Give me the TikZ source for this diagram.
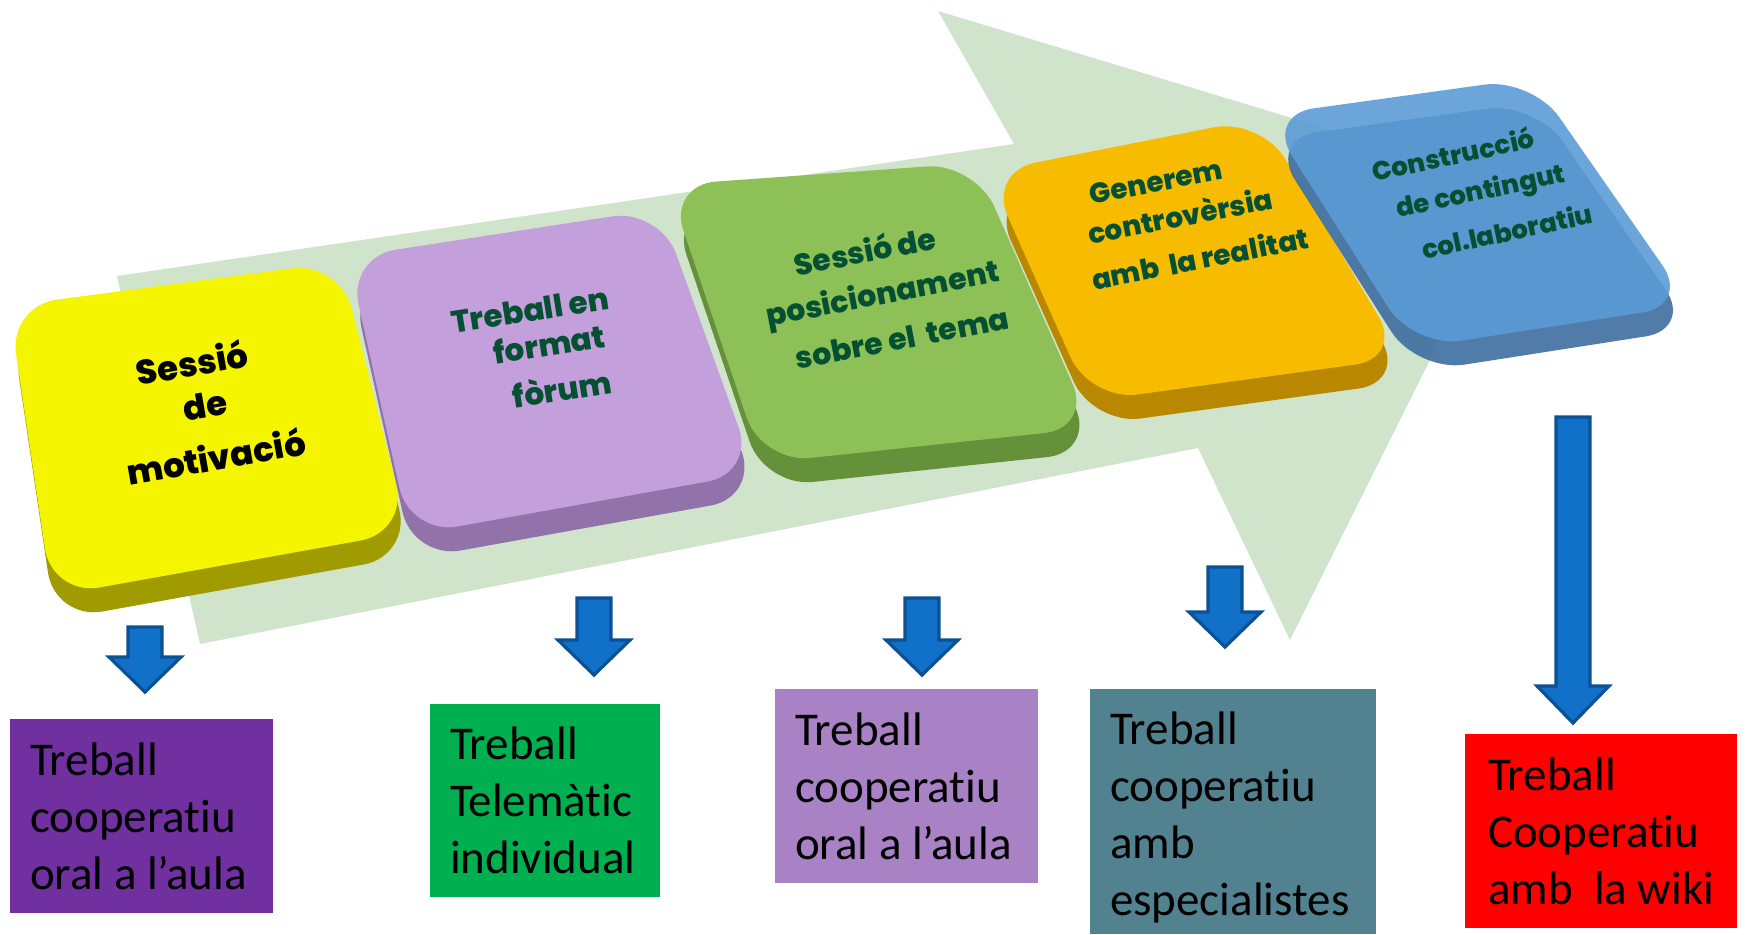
\documentclass[tikz,border=0pt]{standalone}
\usepackage{fontspec}
\setmainfont{Carlito}[Ligatures=NoCommon]
\newfontfamily\keyfont{Poppins}[BoldFont={Poppins ExtraBold}]
\definecolor{bgarrow}{RGB}{208,228,204}
\definecolor{ablue}{RGB}{17,112,200}
\definecolor{ablueedge}{RGB}{12,80,150}
\definecolor{kAtop}{RGB}{245,245,0}
\definecolor{kAside}{RGB}{160,155,0}
\definecolor{kBtop}{RGB}{195,160,220}
\definecolor{kBside}{RGB}{145,115,170}
\definecolor{kCtop}{RGB}{141,193,87}
\definecolor{kCside}{RGB}{100,145,58}
\definecolor{kDtop}{RGB}{247,187,0}
\definecolor{kDside}{RGB}{185,135,0}
\definecolor{kEtop}{RGB}{91,155,213}
\definecolor{kEside}{RGB}{62,110,160}
\definecolor{keytext}{RGB}{5,80,50}
\definecolor{bpurple}{RGB}{112,48,160}
\definecolor{bgreen}{RGB}{0,176,80}
\definecolor{blav}{RGB}{169,130,198}
\definecolor{bteal}{RGB}{82,129,143}
\definecolor{bred}{RGB}{255,0,0}
\newcommand\keyquad[5]{\fill[#1] (#2) -- (#3) -- (#4) -- (#5) -- cycle;}
\newcommand\dnarrow[4]{\draw[blockarrow] ({#1-17},#2) -- ({#1+17},#2) -- ({#1+17},#3) -- ({#1+36},#3) -- (#1,#4) -- ({#1-36},#3) -- ({#1-17},#3) -- cycle;}
\tikzset{
  keyedge/.style={rounded corners=24pt},
  keylbl/.style={inner sep=0pt, text=keytext},
  blockarrow/.style={fill=ablue, draw=ablueedge, line width=1.6pt, line join=miter},
  outbox/.style={inner sep=0pt},
  outtext/.style={inner sep=0pt, align=left, text=black, anchor=west,
    font=\fontsize{23.5}{28.5}\selectfont},
}
\begin{document}
\begin{tikzpicture}[x=0.5pt,y=-0.5pt]
\useasboundingbox (0,0) rectangle (1746,934);
% background arrow
\fill[bgarrow] (117,276) -- (1014,144) -- (938,11) -- (1517,186) -- (1290,640) -- (1198,448) -- (200,644) -- cycle;
% key 1
\keyquad{kAside,keyedge,shift={(3,24)}}{9,306}{340,262}{408,532}{52,596}
\keyquad{kAtop,keyedge}{9,306}{340,262}{408,532}{52,596}
% key 2
\keyquad{kBside,keyedge,shift={(3,24)}}{348,257}{660,209}{755,473}{410,535}
\keyquad{kBtop,keyedge}{348,257}{660,209}{755,473}{410,535}
% key 3
\keyquad{kCside,keyedge,shift={(3,24)}}{668,185}{975,163}{1092,428}{762,463}
\keyquad{kCtop,keyedge}{668,185}{975,163}{1092,428}{762,463}
% key 4
\keyquad{kDside,keyedge,shift={(3,24)}}{988,172}{1261,118}{1403,358}{1090,401}
\keyquad{kDtop,keyedge}{988,172}{1261,118}{1403,358}{1090,401}
% key 5
\keyquad{kEside,keyedge,shift={(3,24)},opacity=0.9}{1266,115}{1532,78}{1690,305}{1414,348}
\keyquad{kEtop,keyedge,opacity=0.9}{1266,115}{1532,78}{1690,305}{1414,348}
% key labels
\tikzset{fA/.style={font=\keyfont\bfseries\fontsize{17}{20}\selectfont, rotate=10, text=black},
 fB/.style={font=\keyfont\bfseries\fontsize{15.5}{18}\selectfont, rotate=9},
 fC/.style={font=\keyfont\bfseries\fontsize{15}{18}\selectfont, rotate=11},
 fD/.style={font=\keyfont\bfseries\fontsize{14}{17}\selectfont, rotate=11},
 fE/.style={font=\keyfont\bfseries\fontsize{13}{16}\selectfont, rotate=12}}
\node[keylbl,fA] (k1a) at (192,362) {Sessió};
\node[keylbl,fA] (k1b) at (205,405) {de};
\node[keylbl,fA] (k1c) at (216,456) {motivació};
\node[keylbl,fB] (k2a) at (530,310) {Treball en};
\node[keylbl,fB] (k2b) at (549,344) {format};
\node[keylbl,fB] (k2c) at (562,388) {fòrum};
\node[keylbl,fC] (k3a) at (865,250) {Sessió de};
\node[keylbl,fC] (k3b) at (883,296) {posicionament};
\node[keylbl,fC] (k3c) at (902,338) {sobre el~~tema};
\node[keylbl,fD] (k4a) at (1156,182) {Generem};
\node[keylbl,fD] (k4b) at (1180,215) {controvèrsia};
\node[keylbl,fD] (k4c) at (1200,258) {amb~~la realitat};
\node[keylbl,fE] (k5a) at (1453,154) {Construcció};
\node[keylbl,fE] (k5b) at (1481,193) {de contingut};
\node[keylbl,fE] (k5c) at (1507,231) {col.laboratiu};
% blue arrows
\dnarrow{145}{627}{657}{692}
\dnarrow{594}{598}{640}{675}
\dnarrow{922}{598}{640}{675}
\dnarrow{1225}{567}{612}{647}
\dnarrow{1573}{417}{686}{723}
% output boxes
\node[outbox, fill=bpurple, minimum width=131.5pt, minimum height=97pt] (o1) at (141.5,816) {};
\node[outtext] (t1) at ([xshift=10pt]o1.west) {Treball\\cooperatiu\\oral a l’aula};
\node[outbox, fill=bgreen, minimum width=115pt, minimum height=96.5pt] (o2) at (545,800.5) {};
\node[outtext] (t2) at ([xshift=10pt]o2.west) {Treball\\Telemàtic\\individual};
\node[outbox, fill=blav, minimum width=131.5pt, minimum height=97pt] (o3) at (906.5,786) {};
\node[outtext] (t3) at ([xshift=10pt]o3.west) {Treball\\cooperatiu\\oral a l’aula};
\node[outbox, fill=bteal, minimum width=143pt, minimum height=122.5pt] (o4) at (1233,811.5) {};
\node[outtext] (t4) at ([xshift=10pt,yshift=-3pt]o4.west) {Treball\\cooperatiu\\amb\\especialistes};
\node[outbox, fill=bred, minimum width=136pt, minimum height=97pt] (o5) at (1601,831) {};
\node[outtext] (t5) at ([xshift=11.5pt]o5.west) {Treball\\Cooperatiu\\amb~~la wiki};
\end{tikzpicture}
\end{document}
